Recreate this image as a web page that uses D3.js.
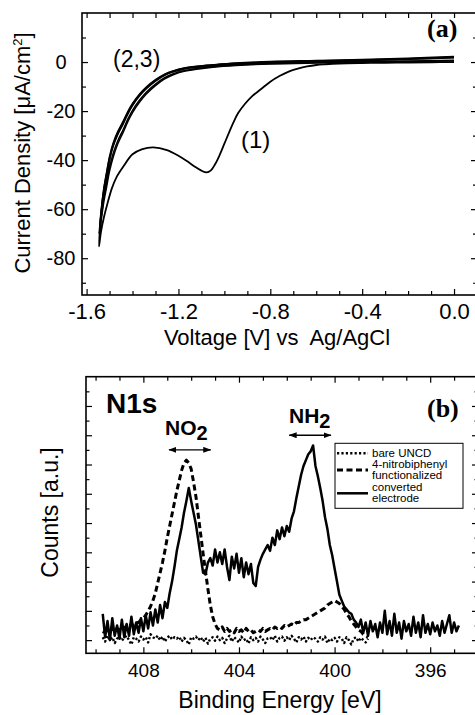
<!DOCTYPE html>
<html><head><meta charset="utf-8">
<script src="https://cdn.jsdelivr.net/npm/d3@7"></script>
<style>
html,body{margin:0;padding:0;background:#fff;}
svg{display:block;}
text{font-family:"Liberation Sans",Arial,sans-serif;fill:#000;}
</style></head><body>
<svg id="chart" width="475" height="715"></svg>
<script>
// ================= Panel (a): cyclic voltammetry =================
const cycle1Voltage = [0.00,-0.10,-0.20,-0.30,-0.40,-0.50,-0.56,-0.60,-0.64,-0.68,-0.72,-0.76,-0.80,-0.84,-0.88,-0.91,-0.94,-0.96,-0.98,-1.00,-1.02,-1.04,-1.06,-1.077,-1.10,-1.13,-1.16,-1.20,-1.25,-1.31,-1.36,-1.40,-1.44,-1.47,-1.49,-1.51,-1.525,-1.537,-1.546,
  -1.535,-1.525,-1.513,-1.50,-1.485,-1.465,-1.44,-1.42,-1.40,-1.37,-1.34,-1.30,-1.26,-1.22,-1.18,-1.12,-1.05,-0.95,-0.80,-0.60,-0.40,-0.20,0.00];
const cycle1Current = [0.0,-0.1,-0.2,-0.3,-0.4,-0.6,-0.9,-1.2,-1.8,-2.7,-3.9,-5.7,-8.0,-11.0,-14.0,-17.0,-20.8,-24.5,-28.8,-33.3,-37.8,-41.6,-44.3,-45.0,-44.3,-42.6,-40.6,-38.2,-35.9,-34.8,-35.6,-37.6,-42.6,-47.0,-51.5,-58.0,-63.5,-69.0,-75.2,
  -60.5,-52.2,-45.8,-39.3,-34.0,-29.2,-24.6,-20.7,-17.4,-13.5,-10.6,-7.5,-5.2,-3.7,-2.7,-1.9,-1.3,-0.6,0.0,0.4,0.8,1.3,1.9];

const cycle23Voltage = [0.00,-0.20,-0.40,-0.60,-0.80,-0.95,-1.05,-1.12,-1.18,-1.22,-1.26,-1.30,-1.34,-1.37,-1.40,-1.42,-1.44,-1.465,-1.485,-1.50,-1.513,-1.525,-1.535,-1.545,
  -1.535,-1.525,-1.513,-1.50,-1.485,-1.465,-1.44,-1.42,-1.40,-1.37,-1.34,-1.30,-1.26,-1.22,-1.18,-1.12,-1.05,-0.95,-0.80,-0.60,-0.40,-0.20,0.00];
const cycle2Current = [0.4,0.2,-0.1,-0.4,-0.8,-1.4,-2.1,-2.9,-3.9,-5.1,-6.9,-9.6,-13.0,-16.4,-20.6,-24.2,-28.5,-33.5,-39.0,-44.5,-51.0,-57.0,-63.5,-70.0,
  -59.0,-51.5,-45.0,-38.5,-33.2,-28.5,-24.0,-20.1,-16.9,-13.1,-10.2,-7.2,-4.9,-3.5,-2.5,-1.7,-1.1,-0.4,0.2,0.6,1.0,1.5,2.3];
const cycle3Current = [0.7,0.4,0.1,-0.2,-0.6,-1.2,-1.9,-2.6,-3.6,-4.7,-6.4,-9.0,-12.3,-15.6,-19.7,-23.2,-27.4,-32.3,-37.5,-43.0,-49.5,-55.5,-62.5,-70.0,
  -60.0,-52.7,-46.5,-40.0,-34.6,-29.7,-25.1,-21.1,-17.8,-13.9,-10.9,-7.8,-5.4,-3.9,-2.9,-2.0,-1.4,-0.7,-0.1,0.3,0.7,1.1,1.8];

const cvXTicks = [-1.6,-1.2,-0.8,-0.4,0.0];
const cvXTickLabels = ["-1.6","-1.2","-0.8","-0.4","0.0"];
const cvXMinor = [-1.5,-1.4,-1.3,-1.1,-1.0,-0.9,-0.7,-0.6,-0.5,-0.3,-0.2,-0.1];
const cvYTicks = [-80,-60,-40,-20,0];
const cvYTickLabels = ["-80","-60","-40","-20","0"];
const cvYMinor = [-90,-70,-50,-30,-10,10];

// ================= Panel (b): XPS N1s =================
const bindingEnergy = [
 409.7,409.6,409.5,409.4,409.3,409.2,409.1,409.0,408.9,408.8,
 408.7,408.6,408.5,408.4,408.3,408.2,408.1,408.0,407.9,407.8,
 407.7,407.6,407.5,407.4,407.3,407.2,407.1,407.0,406.9,406.8,
 406.7,406.6,406.5,406.4,406.3,406.2,406.1,406.0,405.9,405.8,
 405.7,405.6,405.5,405.4,405.3,405.2,405.1,405.0,404.9,404.8,
 404.7,404.6,404.5,404.4,404.3,404.2,404.1,404.0,403.9,403.8,
 403.7,403.6,403.5,403.4,403.3,403.2,403.1,403.0,402.9,402.8,
 402.7,402.6,402.5,402.4,402.3,402.2,402.1,402.0,401.9,401.8,
 401.7,401.6,401.5,401.4,401.3,401.2,401.1,401.0,400.9,400.8,
 400.7,400.6,400.5,400.4,400.3,400.2,400.1,400.0,399.9,399.8,
 399.7,399.6,399.5,399.4,399.3,399.2,399.1,399.0,398.9,398.8,
 398.7,398.6,398.5,398.4,398.3,398.2,398.1,398.0,397.9,397.8,
 397.7,397.6,397.5,397.4,397.3,397.2,397.1,397.0,396.9,396.8,
 396.7,396.6,396.5,396.4,396.3,396.2,396.1,396.0,395.9,395.8,
 395.7,395.6,395.5,395.4,395.3,395.2,395.1,395.0,394.9,394.8];
const convertedCounts = [
 0.9,0.1,0.65,0.0,0.75,0.15,0.5,0.05,0.7,0.1,
 0.55,0.15,0.8,0.2,0.6,0.25,0.75,0.3,0.85,0.4,
 0.95,0.5,1.05,0.6,1.2,0.75,1.3,1.1,1.6,2.0,
 2.5,3.05,3.45,3.85,4.35,4.75,5.2,4.75,4.35,3.95,
 3.4,2.85,2.3,2.25,2.65,2.8,2.55,3.1,2.65,3.0,
 2.6,3.1,2.5,2.05,2.85,2.45,2.95,2.3,2.8,2.15,
 2.65,2.25,2.6,1.95,1.85,2.5,2.75,2.95,3.1,3.25,
 3.05,3.5,3.25,3.75,3.45,3.85,3.55,3.9,3.7,4.15,
 4.4,4.85,5.25,5.65,5.95,6.15,6.35,6.45,6.65,5.95,
 5.6,5.2,4.75,4.2,3.8,3.25,2.9,2.45,2.0,1.55,
 1.35,1.15,1.05,0.95,0.9,0.7,0.6,0.45,0.7,0.25,
 0.6,0.15,0.65,0.3,0.55,0.1,0.6,0.25,1.0,0.2,
 0.65,0.15,0.9,0.25,0.6,0.05,0.65,0.3,0.55,0.15,
 0.8,0.25,0.6,0.1,0.85,0.25,0.55,0.2,0.6,0.3,
 0.5,0.15,0.65,0.25,0.55,0.85,0.25,0.6,0.3,0.5];
const functionalizedCounts = [
 0.3,0.25,0.35,0.3,0.4,0.3,0.4,0.35,0.45,0.4,
 0.5,0.45,0.55,0.5,0.6,0.6,0.7,0.75,0.85,1.0,
 1.15,1.35,1.6,1.95,2.3,2.65,3.05,3.5,3.9,4.3,
 4.7,5.1,5.45,5.8,6.05,6.15,6.05,5.85,5.4,4.9,
 4.25,3.6,2.95,2.35,1.75,1.2,0.8,0.55,0.4,0.35,
 0.45,0.3,0.4,0.3,0.35,0.25,0.4,0.3,0.35,0.25,
 0.4,0.3,0.35,0.25,0.3,0.35,0.3,0.4,0.3,0.35,
 0.4,0.35,0.45,0.4,0.45,0.4,0.5,0.45,0.5,0.55,
 0.5,0.6,0.6,0.65,0.7,0.7,0.75,0.8,0.85,0.9,
 0.95,1.0,1.05,1.1,1.2,1.25,1.3,1.35,1.3,1.25,
 1.15,1.05,0.9,0.8,0.65,0.55,0.45,0.35,0.3,0.2,
 0.15,0.1];
const bareCounts = [
 0.1,-0.05,0.15,0.0,0.1,-0.1,0.05,0.12,-0.02,0.08,
 0.15,0.0,-0.15,0.1,0.05,-0.05,0.12,0.02,0.1,-0.08,
 0.2,0.1,0.05,0.15,0.0,0.12,-0.05,0.08,0.15,0.02,
 0.1,0.05,0.12,-0.05,0.08,0.0,-0.15,0.1,0.05,0.12,
 0.0,0.1,-0.05,0.08,-0.12,0.05,0.1,-0.02,0.12,0.0,
 0.08,-0.1,0.05,0.15,-0.05,0.1,0.02,-0.08,0.12,0.0,
 0.05,-0.12,0.1,0.0,0.08,-0.05,0.12,0.02,-0.1,0.06,
 0.1,0.0,0.15,-0.05,0.08,0.12,-0.02,0.1,0.0,0.15,
 0.05,-0.08,0.1,0.02,0.12,-0.05,0.08,0.0,0.1,0.05,
 -0.05,0.1,0.02,0.12,-0.1,0.05,0.0,0.08,-0.05,0.1,
 0.05,-0.1,0.1,0.0,-0.15,0.05,0.1,-0.05,0.08,0.0,
 -0.08,0.05];

const xpsXTicks = [408,404,400,396];
const xpsXTickLabels = ["408","404","400","396"];
const xpsXMinor = [410,409,407,406,405,403,402,401,399,398,397,395];
const xpsYTicks = [0,1,2,3,4,5,6,7,8];
const xpsYMinor = [0.5,1.5,2.5,3.5,4.5,5.5,6.5,7.5,8.5];

const legendLabels = [["bare UNCD"],["4-nitrobiphenyl","functionalized"],["converted","electrode"]];

// ================= Drawing =================
const svg = d3.select("#chart");
svg.append("rect").attr("width",475).attr("height",715).attr("fill","#fff");

function styleAxis(sel, fontSize){
  sel.select(".domain").remove();
  sel.selectAll("line").attr("stroke","#000").attr("stroke-width",1.2);
  sel.selectAll("text").style("font-size", fontSize+"px").attr("fill","#000");
}

// ---------- Panel (a) ----------
const xA = d3.scaleLinear().domain([-1.62, 0.1]).range([82, 477]);
const yA = d3.scaleLinear().domain([-95, 20]).range([295, 13]);
const gA = svg.append("g");

gA.append("g").attr("transform","translate(0,295)")
  .call(d3.axisBottom(xA).tickValues(cvXTicks).tickSize(-6).tickPadding(8).tickFormat((d,i)=>cvXTickLabels[i]))
  .call(s=>styleAxis(s,22));
gA.append("g").attr("transform","translate(0,295)")
  .call(d3.axisBottom(xA).tickValues(cvXMinor).tickSize(-4).tickFormat(""))
  .call(s=>styleAxis(s,10));
gA.append("g").attr("transform","translate(0,13)")
  .call(d3.axisTop(xA).tickValues(cvXTicks.concat(cvXMinor)).tickSize(-5).tickFormat(""))
  .call(s=>styleAxis(s,10));
gA.append("g").attr("transform","translate(82,0)")
  .call(d3.axisLeft(yA).tickValues(cvYTicks).tickSize(-6).tickPadding(21).tickFormat((d,i)=>cvYTickLabels[i]))
  .call(s=>styleAxis(s,20))
  .attr("text-anchor","middle");
gA.append("g").attr("transform","translate(82,0)")
  .call(d3.axisLeft(yA).tickValues(cvYMinor).tickSize(-4).tickFormat(""))
  .call(s=>styleAxis(s,10));
gA.append("g").attr("transform","translate(477,0)")
  .call(d3.axisRight(yA).tickValues(cvYTicks).tickSize(-6).tickFormat(""))
  .call(s=>styleAxis(s,10));
gA.append("g").attr("transform","translate(477,0)")
  .call(d3.axisRight(yA).tickValues(cvYMinor).tickSize(-4).tickFormat(""))
  .call(s=>styleAxis(s,10));
gA.append("rect").attr("x",82).attr("y",13).attr("width",395).attr("height",282)
  .attr("fill","none").attr("stroke","#000").attr("stroke-width",1.6);

const lineA = d3.line().x(d=>xA(d[0])).y(d=>yA(d[1])).curve(d3.curveCatmullRom.alpha(0.5));
const cvSeries = [
  {v: cycle23Voltage, j: cycle2Current, w: 1.5},
  {v: cycle23Voltage, j: cycle3Current, w: 1.5},
  {v: cycle1Voltage, j: cycle1Current, w: 1.8}
];
cvSeries.forEach(s=>{
  gA.append("path").datum(s.v.map((v,i)=>[v, s.j[i]]))
    .attr("d", lineA).attr("fill","none").attr("stroke","#000")
    .attr("stroke-width", s.w).attr("stroke-linejoin","round");
});

gA.append("text").attr("x",113).attr("y",67).style("font-size","23px").text("(2,3)");
gA.append("text").attr("x",241).attr("y",148).style("font-size","24px").text("(1)");
gA.append("text").attr("x",427).attr("y",37).style("font-size","26px")
  .style("font-family","'Liberation Serif','Times New Roman',serif").style("font-weight","bold").text("(a)");

const yTitleA = gA.append("text").attr("transform","translate(30,153) rotate(-90)")
  .attr("text-anchor","middle").style("font-size","22px");
yTitleA.append("tspan").text("Current Density [μA/cm");
yTitleA.append("tspan").attr("dy",-8).style("font-size","13px").text("2");
yTitleA.append("tspan").attr("dy",8).text("]");
gA.append("text").attr("x",277).attr("y",345).attr("text-anchor","middle")
  .style("font-size","22px").style("white-space","pre").text("Voltage [V] vs  Ag/AgCl");

// ---------- Panel (b) ----------
const xB = d3.scaleLinear().domain([410.4, 394.0]).range([86, 478]);
const yB = d3.scaleLinear().domain([-0.45, 9]).range([653.3, 376.7]);
const gB = svg.append("g");

gB.append("g").attr("transform","translate(0,653.3)")
  .call(d3.axisBottom(xB).tickValues(xpsXTicks).tickSize(-6).tickPadding(10).tickFormat((d,i)=>xpsXTickLabels[i]))
  .call(s=>styleAxis(s,19));
gB.append("g").attr("transform","translate(0,653.3)")
  .call(d3.axisBottom(xB).tickValues(xpsXMinor).tickSize(-4).tickFormat(""))
  .call(s=>styleAxis(s,10));
gB.append("g").attr("transform","translate(0,376.7)")
  .call(d3.axisTop(xB).tickValues(xpsXTicks).tickSize(-6).tickFormat(""))
  .call(s=>styleAxis(s,10));
gB.append("g").attr("transform","translate(0,376.7)")
  .call(d3.axisTop(xB).tickValues(xpsXMinor).tickSize(-4).tickFormat(""))
  .call(s=>styleAxis(s,10));
gB.append("g").attr("transform","translate(86,0)")
  .call(d3.axisLeft(yB).tickValues(xpsYTicks).tickSize(-6).tickFormat(""))
  .call(s=>styleAxis(s,10));
gB.append("g").attr("transform","translate(86,0)")
  .call(d3.axisLeft(yB).tickValues(xpsYMinor).tickSize(-3.5).tickFormat(""))
  .call(s=>styleAxis(s,10));
gB.append("g").attr("transform","translate(478,0)")
  .call(d3.axisRight(yB).tickValues(xpsYTicks).tickSize(-6).tickFormat(""))
  .call(s=>styleAxis(s,10));
gB.append("g").attr("transform","translate(478,0)")
  .call(d3.axisRight(yB).tickValues(xpsYMinor).tickSize(-3.5).tickFormat(""))
  .call(s=>styleAxis(s,10));
gB.append("rect").attr("x",86).attr("y",376.7).attr("width",392).attr("height",276.6)
  .attr("fill","none").attr("stroke","#000").attr("stroke-width",1.6);

const lineB = d3.line().x(d=>xB(d[0])).y(d=>yB(d[1]));
const xpsSeries = [
  {counts: bareCounts, dash: "2.2,2.2", w: 2.4},
  {counts: functionalizedCounts, dash: "6,3.5", w: 3},
  {counts: convertedCounts, dash: null, w: 2.5}
];
xpsSeries.forEach(s=>{
  const p = gB.append("path").datum(s.counts.map((c,i)=>[bindingEnergy[i], c]))
    .attr("d", lineB).attr("fill","none").attr("stroke","#000")
    .attr("stroke-width", s.w).attr("stroke-linejoin","round");
  if (s.dash) p.attr("stroke-dasharray", s.dash);
});

// arrows
const defs = svg.append("defs");
defs.append("marker").attr("id","arrowHead").attr("viewBox","0 0 8 6")
  .attr("refX",7.5).attr("refY",3).attr("markerWidth",8).attr("markerHeight",6)
  .attr("markerUnits","userSpaceOnUse").attr("orient","auto-start-reverse")
  .append("path").attr("d","M0,0 L8,3 L0,6 Z").attr("fill","#000");
const arrowSpans = [{from: 406.93, to: 405.18, y: 6.5}, {from: 401.9, to: 400.15, y: 7.0}];
arrowSpans.forEach(a=>{
  gB.append("line").attr("x1",xB(a.from)).attr("x2",xB(a.to))
    .attr("y1",yB(a.y)).attr("y2",yB(a.y)).attr("stroke","#000").attr("stroke-width",1.4)
    .attr("marker-start","url(#arrowHead)").attr("marker-end","url(#arrowHead)");
});

const no2 = gB.append("text").attr("x",165).attr("y",435).style("font-size","21px").style("font-weight","bold");
no2.append("tspan").text("NO");
no2.append("tspan").attr("dy",4.5).style("font-size","20px").text("2");
const nh2 = gB.append("text").attr("x",289).attr("y",423.3).style("font-size","21px").style("font-weight","bold");
nh2.append("tspan").text("NH");
nh2.append("tspan").attr("dy",4.5).style("font-size","20px").text("2");

gB.append("text").attr("x",106).attr("y",412.5).style("font-size","28px").style("font-weight","bold").text("N1s");
gB.append("text").attr("x",427).attr("y",417).style("font-size","26px")
  .style("font-family","'Liberation Serif','Times New Roman',serif").style("font-weight","bold").text("(b)");

gB.append("text").attr("transform","translate(58,512.5) rotate(-90)").attr("text-anchor","middle")
  .style("font-size","23px").text("Counts [a.u.]");
gB.append("text").attr("x",280).attr("y",708).attr("text-anchor","middle")
  .style("font-size","23px").text("Binding Energy [eV]");

// legend
const lg = gB.append("g");
lg.append("rect").attr("x",335).attr("y",443.3).attr("width",128).attr("height",65)
  .attr("fill","#fff").attr("stroke","#000").attr("stroke-width",1);
const legendRows = [
  {y: 453.3, dash: "2.2,2.2", w: 2.4, textY: [457]},
  {y: 470, dash: "6,3.5", w: 3, textY: [468.3, 479.3]},
  {y: 493.3, dash: null, w: 2.5, textY: [491, 502]}
];
legendRows.forEach((r,i)=>{
  const l = lg.append("line").attr("x1",337).attr("x2",368).attr("y1",r.y).attr("y2",r.y)
    .attr("stroke","#000").attr("stroke-width",r.w);
  if (r.dash) l.attr("stroke-dasharray", r.dash);
  legendLabels[i].forEach((t,k)=>{
    lg.append("text").attr("transform",`translate(372,${r.textY[k]}) scale(1.15,1)`)
      .style("font-size","10px").text(t);
  });
});
</script>
</body></html>
